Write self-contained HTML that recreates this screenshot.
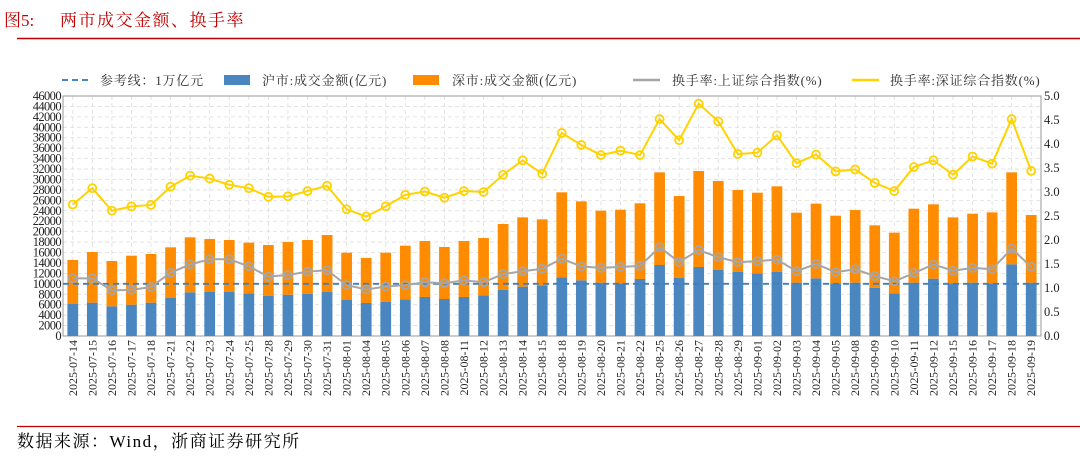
<!DOCTYPE html>
<html><head><meta charset="utf-8"><style>
body{margin:0;background:#fff;width:1080px;height:460px;overflow:hidden;font-family:"Liberation Serif","Noto Serif CJK SC",serif;}
svg{display:block}
</style></head><body>
<svg id="c" width="1080" height="460">
<text x="4" y="26" fill="#c00000" font-size="17" font-family="Liberation Serif, Noto Serif CJK SC, serif">图5:</text>
<text x="60" y="26" fill="#c00000" font-size="17" letter-spacing="1.5" font-family="Liberation Serif, Noto Serif CJK SC, serif">两市成交金额、换手率</text>
<line x1="17" y1="38.5" x2="1080" y2="38.5" stroke="#c00000" stroke-width="1.5"/>
<line x1="17" y1="426.5" x2="1080" y2="426.5" stroke="#c00000" stroke-width="1.2"/>
<text x="17" y="447" fill="#000" font-size="17" letter-spacing="1.5" font-family="Liberation Serif, Noto Serif CJK SC, serif">数据来源：Wind，浙商证券研究所</text>
<g id="legend" font-size="13" font-family="Liberation Serif, Noto Serif CJK SC, serif" fill="#333">
<line x1="62" y1="80" x2="88" y2="80" stroke="#4a86c0" stroke-width="2" stroke-dasharray="6,4"/>
<text x="100" y="85" letter-spacing="0.8">参考线：1万亿元</text>
<rect x="224" y="75" width="26" height="10" fill="#4a86c0"/>
<text x="262" y="85" letter-spacing="0.8">沪市:成交金额(亿元)</text>
<rect x="413" y="75" width="26" height="10" fill="#ff8c00"/>
<text x="452" y="85" letter-spacing="0.8">深市:成交金额(亿元)</text>
<line x1="633" y1="80" x2="660" y2="80" stroke="#a6a6a6" stroke-width="2.5"/>
<text x="672" y="85" letter-spacing="0.8">换手率:上证综合指数(%)</text>
<line x1="852" y1="80" x2="879" y2="80" stroke="#ffd200" stroke-width="2.5"/>
<text x="890" y="85" letter-spacing="0.8">换手率:深证综合指数(%)</text>
</g>
<g id="plot"></g>
</svg>
<script>
const dates=["2025-07-14","2025-07-15","2025-07-16","2025-07-17","2025-07-18","2025-07-21","2025-07-22","2025-07-23","2025-07-24","2025-07-25","2025-07-28","2025-07-29","2025-07-30","2025-07-31","2025-08-01","2025-08-04","2025-08-05","2025-08-06","2025-08-07","2025-08-08","2025-08-11","2025-08-12","2025-08-13","2025-08-14","2025-08-15","2025-08-18","2025-08-19","2025-08-20","2025-08-21","2025-08-22","2025-08-25","2025-08-26","2025-08-27","2025-08-28","2025-08-29","2025-09-01","2025-09-02","2025-09-03","2025-09-04","2025-09-05","2025-09-08","2025-09-09","2025-09-10","2025-09-11","2025-09-12","2025-09-15","2025-09-16","2025-09-17","2025-09-18","2025-09-19"];
const shAmount=[6130,6390,5690,6000,6390,7280,8370,8500,8430,8180,7670,7920,8110,8430,6900,6330,6520,7030,7480,7090,7480,7800,8880,9460,9710,11240,10670,10220,10090,10930,13610,11180,13230,12650,12270,12010,12270,10220,11050,10090,10220,9260,8180,10220,10990,10090,10220,10090,13740,10220];
const totalAmount=[14570,16100,14380,15400,15720,17000,18910,18590,18400,17890,17440,18020,18400,19360,15970,14950,15970,17310,18210,17060,18210,18780,21470,22740,22360,27540,25810,24020,24210,25430,31370,26830,31630,29710,27990,27470,28690,23640,25370,23060,24150,21210,19810,24400,25240,22740,23450,23700,31370,23190];
const shRate=[1.20,1.20,0.95,0.96,1.02,1.32,1.49,1.60,1.60,1.45,1.24,1.27,1.34,1.37,1.06,0.97,1.03,1.06,1.12,1.10,1.16,1.12,1.29,1.35,1.40,1.61,1.45,1.42,1.44,1.46,1.85,1.54,1.79,1.64,1.54,1.56,1.59,1.35,1.50,1.33,1.39,1.25,1.14,1.31,1.49,1.36,1.42,1.39,1.82,1.44];
const szRate=[2.74,3.08,2.61,2.70,2.73,3.11,3.34,3.28,3.15,3.08,2.90,2.91,3.02,3.13,2.64,2.49,2.70,2.94,3.01,2.88,3.02,3.00,3.36,3.66,3.38,4.23,3.98,3.77,3.86,3.77,4.52,4.08,4.84,4.47,3.79,3.82,4.18,3.60,3.78,3.43,3.47,3.19,3.02,3.52,3.66,3.36,3.74,3.59,4.52,3.44];
const leftTicks=[0,2000,4000,6000,8000,10000,12000,14000,16000,18000,20000,22000,24000,26000,28000,30000,32000,34000,36000,38000,40000,42000,44000,46000];
const rightTicks=["0.0","0.5","1.0","1.5","2.0","2.5","3.0","3.5","4.0","4.5","5.0"];
const refValue=10000;

const NS="http://www.w3.org/2000/svg";
const g=document.getElementById('plot');
const L=63,R=1041,T=96,B=336;
const n=dates.length;
const bw=(R-L)/n;
const xc=i=>L+bw*(i+0.5);
const yL=v=>B-(v/46000)*(B-T);
const yR=v=>B-(v/5)*(B-T);
function mk(tag,attrs){const e=document.createElementNS(NS,tag);for(const k in attrs)e.setAttribute(k,attrs[k]);g.appendChild(e);return e;}
leftTicks.forEach(t=>{const e=mk('line',{x1:L,x2:R,y1:yL(t),y2:yL(t),stroke:'#ddd','stroke-dasharray':'4,3','stroke-width':0.8});

});
for(let i=0;i<n;i++){const e=mk('line',{x1:xc(i),x2:xc(i),y1:T,y2:B,stroke:'#ddd','stroke-dasharray':'4,3','stroke-width':0.8});

}
const fr=mk('rect',{x:L,y:T,width:R-L,height:B-T,fill:'none',stroke:'#999','stroke-width':1});


leftTicks.forEach(t=>{const e=mk('text',{x:L-2,y:yL(t)+4,'text-anchor':'end','font-size':12.5,fill:'#222','letter-spacing':'-0.6'});e.textContent=t;

});
rightTicks.forEach(t=>{const e=mk('text',{x:R+3,y:yR(+t)+4,'font-size':12.5,fill:'#222'});e.textContent=t;

});
const barW=bw*0.55;
for(let i=0;i<n;i++){
 const b1=mk('rect',{x:xc(i)-barW/2,y:yL(shAmount[i]),width:barW,height:B-yL(shAmount[i]),fill:'#4a86c0'});
 
 
 const b2=mk('rect',{x:xc(i)-barW/2,y:yL(totalAmount[i]),width:barW,height:yL(shAmount[i])-yL(totalAmount[i]),fill:'#ff8c00'});
 
 
 const lb=mk('text',{transform:`translate(${xc(i)+4},340) rotate(-90)`,'text-anchor':'end','font-size':12,fill:'#222'});lb.textContent=dates[i];
 
 
}
const rl=mk('line',{x1:L,x2:R,y1:yL(refValue),y2:yL(refValue),stroke:'#3f7fbf','stroke-width':1.8,'stroke-dasharray':'6,4'});


function series(vals,color,name){
 const p=mk('polyline',{points:vals.map((v,i)=>xc(i)+','+yR(v)).join(' '),fill:'none',stroke:color,'stroke-width':2});
 
 
 vals.forEach((v,i)=>{const c=mk('circle',{cx:xc(i),cy:yR(v),r:4,fill:'none',stroke:color,'stroke-width':1.8});
 
 });
}
series(shRate,'#a6a6a6','sh-rate');
series(szRate,'#ffd200','sz-rate');
</script>
</body></html>
